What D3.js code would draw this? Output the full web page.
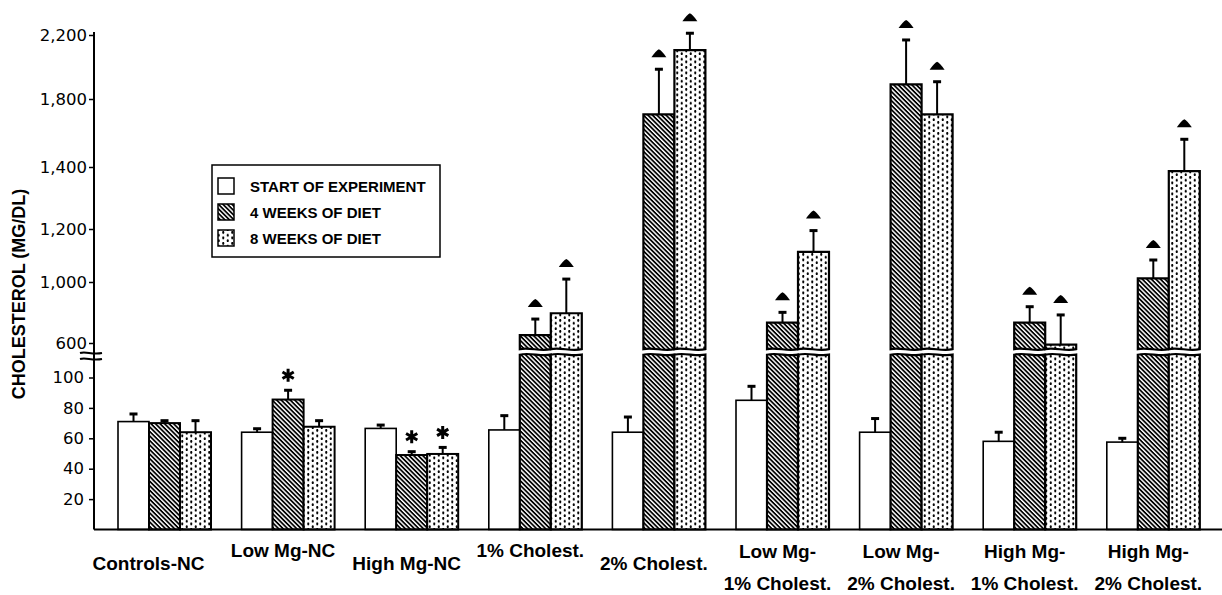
<!DOCTYPE html>
<html>
<head>
<meta charset="utf-8">
<script src="https://cdn.jsdelivr.net/npm/d3@7"></script>
<style>
  html, body { margin: 0; padding: 0; background: #fff; }
</style>
</head>
<body>
<div id="chart"></div>
<script>
'use strict';

// groups on the x axis (multi-line labels as arrays)
var groups = [
  ["Controls-NC"], ["Low Mg-NC"], ["High Mg-NC"], ["1% Cholest."], ["2% Cholest."],
  ["Low Mg-", "1% Cholest."], ["Low Mg-", "2% Cholest."],
  ["High Mg-", "1% Cholest."], ["High Mg-", "2% Cholest."]
];
var seriesNames = ["START OF EXPERIMENT", "4 WEEKS OF DIET", "8 WEEKS OF DIET"];

// cholesterol mg/dl, mean and error (SE)
var startVals = [71, 64, 66.5, 65.5, 64, 85, 64, 58, 57.5];
var startErr  = [5, 2.3, 2.2, 9.4, 10, 9.2, 9, 6, 2.5];
var week4Vals = [70, 85.5, 49, 652, 1710, 733, 1892, 733, 1014];
var week4Err  = [1.6, 6.1, 2.2, 105, 276, 68, 277, 105, 69];
var week8Vals = [64, 67.6, 49.7, 795, 2106, 1114, 1710, 590, 1387];
var week8Err  = [7.6, 4, 4.3, 216, 105, 80, 198, 194, 176];

// significance marks: "*" or "tri"
var startSig = ["", "", "", "", "", "", "", "", ""];
var week4Sig = ["", "*", "*", "tri", "tri", "tri", "tri", "tri", "tri"];
var week8Sig = ["", "", "*", "tri", "tri", "tri", "tri", "tri", "tri"];

var lowTicks = [20, 40, 60, 80, 100];
var highTicks = [600, 1000, 1200, 1400, 1800, 2200];

// ---- layout ----
const w = 1222, h = 595;
const axisX = 94, baseY = 529.5;
const lowCap = 115, upBase = 560;   // where the broken bars are cut

var svg = d3.select("#chart").append("svg")
  .attr("width", w)
  .attr("height", h)
  .style("display", "block");

var defs = svg.append("defs");

var hatch = defs.append("pattern")
  .attr("id", "hatch")
  .attr("patternUnits", "userSpaceOnUse")
  .attr("width", 3.2).attr("height", 3.2)
  .attr("patternTransform", "rotate(45)");
hatch.append("rect").attr("width", 3.2).attr("height", 3.2).attr("fill", "#fff");
hatch.append("rect").attr("width", 3.2).attr("height", 1.75).attr("fill", "#000");

var dots = defs.append("pattern")
  .attr("id", "dots")
  .attr("patternUnits", "userSpaceOnUse")
  .attr("width", 9).attr("height", 5.5);
dots.append("rect").attr("width", 9).attr("height", 5.5).attr("fill", "#fff");
dots.append("ellipse").attr("cx", 2.25).attr("cy", 1.4).attr("rx", 1.05).attr("ry", 1.5).attr("fill", "#000");
dots.append("ellipse").attr("cx", 6.75).attr("cy", 4.15).attr("rx", 1.05).attr("ry", 1.5).attr("fill", "#000");

var fills = ["#fff", "url(#hatch)", "url(#dots)"];

var x0 = d3.scaleBand()
  .domain(d3.range(groups.length))
  .range([102.7, 1215.1])
  .paddingInner(0.2476)
  .paddingOuter(0.1238);

var x1 = d3.scaleBand()
  .domain([0, 1, 2])
  .range([0, x0.bandwidth()]);

var yLow = d3.scaleLinear()
  .domain([0, 100])
  .range([baseY, baseY - 152]);

// upper panel: tick spacing in the figure is not even, so piecewise
var yUp = d3.scaleLinear()
  .domain(highTicks)
  .range([343, 282, 229, 167, 99, 35]);

var vals = [startVals, week4Vals, week8Vals];
var errs = [startErr, week4Err, week8Err];
var sigs = [startSig, week4Sig, week8Sig];

var rows = [];
groups.forEach(function(g, i) {
  for (var s = 0; s < 3; s++) {
    rows.push({ g: i, s: s, v: vals[s][i], e: errs[s][i], sig: sigs[s][i] });
  }
});

function barX(d) { return x0(d.g) + x1(d.s); }
function topY(v) { return v > lowCap ? yUp(v) : yLow(v); }

// ---- bars ----
var bw = x1.bandwidth();
var barG = svg.append("g");

rows.forEach(function(d) {
  var xa = barX(d), xb = xa + bw;
  var sw = d.s === 0 ? 1.6 : 2;
  if (d.v <= lowCap) {
    barG.append("rect")
      .attr("x", xa).attr("y", yLow(d.v))
      .attr("width", bw).attr("height", baseY - yLow(d.v))
      .attr("fill", fills[d.s]).attr("stroke", "#000").attr("stroke-width", sw);
  } else {
    var yc = yLow(lowCap);
    barG.append("path")
      .attr("d", "M" + xa + "," + baseY + "L" + xa + "," + yc +
        "C" + (xa + bw * 0.33) + "," + (yc - 2.5) + " " + (xa + bw * 0.66) + "," + (yc + 2) + " " + xb + "," + yc +
        "L" + xb + "," + baseY + "Z")
      .attr("fill", fills[d.s]).attr("stroke", "#000").attr("stroke-width", 2.2);
    var yb = yUp(upBase), yt = yUp(d.v);
    barG.append("path")
      .attr("d", "M" + xa + "," + yt + "L" + xa + "," + yb +
        "C" + (xa + bw * 0.33) + "," + (yb - 2) + " " + (xa + bw * 0.66) + "," + (yb + 2.5) + " " + xb + "," + yb +
        "L" + xb + "," + yt + "Z")
      .attr("fill", fills[d.s]).attr("stroke", "#000").attr("stroke-width", 2.2);
  }
});

// ---- error bars ----
var errG = svg.append("g").attr("stroke", "#000");
rows.forEach(function(d) {
  var cx = barX(d) + bw / 2;
  var y1 = topY(d.v), y2 = topY(d.v + d.e);
  errG.append("line")
    .attr("x1", cx).attr("x2", cx).attr("y1", y1).attr("y2", y2)
    .attr("stroke-width", 2);
  errG.append("line")
    .attr("x1", cx - 4).attr("x2", cx + 4).attr("y1", y2).attr("y2", y2)
    .attr("stroke-width", 3);
});

// ---- significance marks ----
var markG = svg.append("g");
rows.filter(function(d) { return d.sig; }).forEach(function(d) {
  var cx = barX(d) + bw / 2;
  var ye = topY(d.v + d.e);
  if (d.sig === "tri") {
    markG.append("path")
      .attr("transform", "translate(" + cx + "," + (ye - 12) + ")")
      .attr("d", "M-7.5,0Q-3,-6.5 0,-8Q3,-6.5 7.5,0Z")
      .attr("fill", "#000");
  } else {
    var r = 6.5;
    var p = "";
    [90, 30, 150].forEach(function(a) {
      var rad = a * Math.PI / 180;
      p += "M" + (-r * Math.cos(rad)) + "," + (-r * Math.sin(rad)) +
           "L" + (r * Math.cos(rad)) + "," + (r * Math.sin(rad));
    });
    markG.append("path")
      .attr("transform", "translate(" + cx + "," + (ye - 15) + ")")
      .attr("d", p)
      .attr("stroke", "#000").attr("stroke-width", 3);
  }
});

// ---- axes ----
var lowAxis = svg.append("g")
  .attr("transform", "translate(" + axisX + ",0)")
  .call(d3.axisLeft(yLow).tickValues(lowTicks).tickSize(5).tickPadding(5));
var upAxis = svg.append("g")
  .attr("transform", "translate(" + axisX + ",0)")
  .call(d3.axisLeft(yUp).tickValues(highTicks).tickSize(5).tickPadding(2).tickFormat(d3.format(",")));

[lowAxis, upAxis].forEach(function(a) {
  a.select(".domain").remove();
  a.attr("font-family", "'DejaVu Sans', sans-serif").attr("font-size", 16.5);
  a.selectAll(".tick line").attr("stroke-width", 1.5);
  a.selectAll(".tick text").attr("fill", "#000");
});

svg.append("line")
  .attr("x1", axisX).attr("x2", axisX)
  .attr("y1", yUp(2200) - 3).attr("y2", baseY)
  .attr("stroke", "#000").attr("stroke-width", 2);

svg.append("line")
  .attr("x1", axisX).attr("x2", w)
  .attr("y1", baseY).attr("y2", baseY)
  .attr("stroke", "#000").attr("stroke-width", 2);

// break marks on the axis
[353, 359].forEach(function(y) {
  svg.append("path")
    .attr("d", "M80," + y + "C86," + (y - 2) + " 92," + (y + 2) + " 102," + y)
    .attr("fill", "none").attr("stroke", "#000").attr("stroke-width", 2);
});

// y title
svg.append("text")
  .attr("transform", "translate(19,294) rotate(-90)")
  .attr("text-anchor", "middle")
  .attr("dominant-baseline", "central")
  .attr("font-family", "'Liberation Sans', Arial, sans-serif")
  .attr("font-weight", "bold")
  .attr("font-size", 18)
  .text("CHOLESTEROL (MG/DL)");

// group labels
var labG = svg.append("g")
  .attr("font-family", "'Liberation Sans', Arial, sans-serif")
  .attr("font-weight", "bold")
  .attr("font-size", 19)
  .attr("text-anchor", "middle");

groups.forEach(function(lines, i) {
  var cx = x0(i) + x0.bandwidth() / 2 - (i === 0 ? 16 : 5);
  if (lines.length === 1) {
    labG.append("text")
      .attr("x", cx).attr("y", i % 2 === 0 ? 570 : 557)
      .text(lines[0]);
  } else {
    labG.append("text").attr("x", cx).attr("y", 558).text(lines[0]);
    labG.append("text").attr("x", cx).attr("y", 590).text(lines[1]);
  }
});

// legend
var leg = svg.append("g").attr("transform", "translate(212,165)");
leg.append("rect")
  .attr("width", 228).attr("height", 92)
  .attr("fill", "#fff").attr("stroke", "#000").attr("stroke-width", 1.5);

seriesNames.forEach(function(name, i) {
  var yy = 13 + i * 26;
  leg.append("rect")
    .attr("x", 6).attr("y", yy)
    .attr("width", 16).attr("height", 16)
    .attr("fill", fills[i]).attr("stroke", "#000").attr("stroke-width", 1.5);
  leg.append("text")
    .attr("x", 38).attr("y", yy + 8)
    .attr("dominant-baseline", "central")
    .attr("font-family", "'Liberation Sans', Arial, sans-serif")
    .attr("font-weight", "bold")
    .attr("font-size", 15)
    .text(name);
});
</script>
</body>
</html>
